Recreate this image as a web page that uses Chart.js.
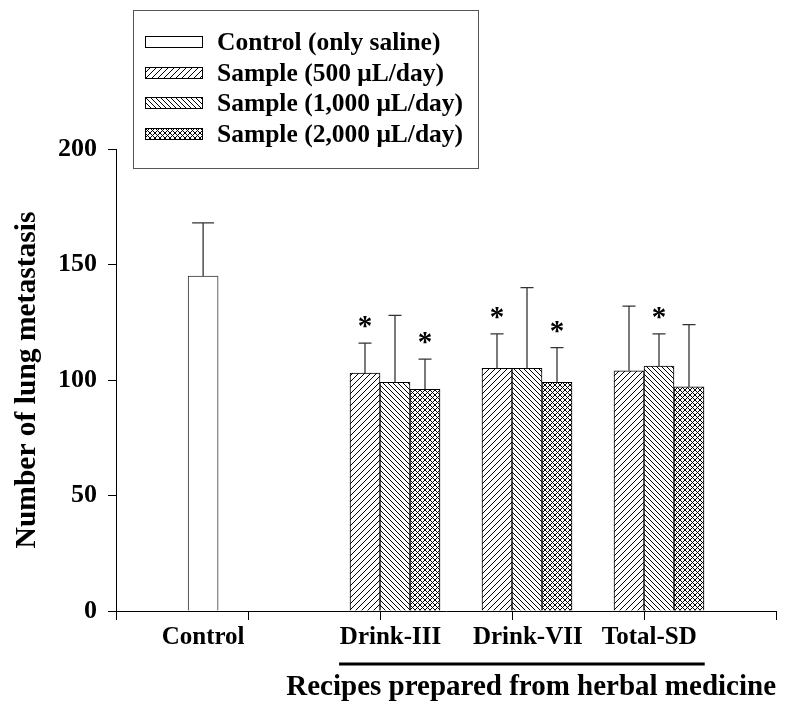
<!DOCTYPE html>
<html>
<head>
<meta charset="utf-8">
<script src="https://cdn.jsdelivr.net/npm/chart.js@4.4.1/dist/chart.umd.min.js"></script>
<style>
  html, body { margin: 0; padding: 0; background: #fff; }
  #wrap { position: relative; width: 787px; height: 707px; }
  #legend {
    position: absolute; left: 133px; top: 10px; width: 346px; height: 159px;
    box-sizing: border-box; border: 1px solid #555; background: #fff;
    font: bold 25.5px "Liberation Serif", "Times New Roman", serif; color: #000;
  }
  .row { position: absolute; left: 11px; height: 30px; display: flex; align-items: center; white-space: nowrap; }
  .row canvas { margin-right: 14px; }
</style>
</head>
<body>
<div id="wrap">
  <canvas id="chart" width="787" height="707"></canvas>
  <div id="legend"></div>
</div>
<script>
/* Lung metastasis bar chart */

const categories = ['Control', 'Drink-III', 'Drink-VII', 'Total-SD'];
const seriesLabels = ['Control (only saline)', 'Sample (500 \u03bcL/day)', 'Sample (1,000 \u03bcL/day)', 'Sample (2,000 \u03bcL/day)'];

const controlMean = [145];
const controlSD = [23];
const mean500 = [103, 105, 104];
const sd500 = [13, 15, 28];
const mean1000 = [99, 105, 106];
const sd1000 = [29, 35, 14];
const mean2000 = [96, 99, 97];
const sd2000 = [13, 15, 27];
const sig500 = [true, true, false];
const sig1000 = [false, false, true];
const sig2000 = [true, true, false];

const yTickValues = [0, 50, 100, 150, 200];
const xTitle = 'Recipes prepared from herbal medicine';
const yTitle = 'Number of lung metastasis';

// layout, in x-axis units (1 unit = one tick interval)
const BAR_PX = 30;
const UNIT_PX = 132;
const controlPos = 0.66;
const recipePos = [2, 3, 4];
const labelPos = [0.66, 2.08, 3.12, 4.04];
const underline = [1.69, 4.46];

function makePattern(kind) {
  const n = kind === 'fwd' ? 6 : 5;
  const c = document.createElement('canvas');
  c.width = n; c.height = n;
  const g = c.getContext('2d');
  g.fillStyle = '#fff';
  g.fillRect(0, 0, n, n);
  g.strokeStyle = '#000';
  g.lineWidth = 1;
  g.beginPath();
  if (kind === 'fwd' || kind === 'cross') {
    g.moveTo(-1, n + 1); g.lineTo(n + 1, -1);
    g.moveTo(-1, 1); g.lineTo(1, -1);
    g.moveTo(n - 1, n + 1); g.lineTo(n + 1, n - 1);
  }
  if (kind === 'back' || kind === 'cross') {
    g.moveTo(-1, -1); g.lineTo(n + 1, n + 1);
    g.moveTo(-1, n - 1); g.lineTo(1, n + 1);
    g.moveTo(n - 1, -1); g.lineTo(n + 1, 1);
  }
  g.stroke();
  return g.createPattern(c, 'repeat');
}

const fills = ['#fff', makePattern('fwd'), makePattern('back'), makePattern('cross')];

function recipeData(means, slot) {
  return means.map((m, i) => ({ x: recipePos[i] + (slot - 0.5) * BAR_PX / UNIT_PX, y: m }));
}

const datasets = [
  { label: seriesLabels[0], data: [{ x: controlPos, y: controlMean[0] }], sd: controlSD, sig: [false], capW: 22 },
  { label: seriesLabels[1], data: recipeData(mean500, 0), sd: sd500, sig: sig500, capW: 13 },
  { label: seriesLabels[2], data: recipeData(mean1000, 1), sd: sd1000, sig: sig1000, capW: 13 },
  { label: seriesLabels[3], data: recipeData(mean2000, 2), sd: sd2000, sig: sig2000, capW: 13 }
].map((d, i) => Object.assign(d, {
  backgroundColor: fills[i],
  borderColor: i === 0 ? '#333' : '#000',
  borderWidth: 1,
  borderSkipped: 'bottom',
  grouped: false,
  barThickness: BAR_PX
}));

const errorBars = {
  id: 'errorBars',
  afterDatasetsDraw(chart) {
    const ctx = chart.ctx;
    const y = chart.scales.y;
    ctx.save();
    chart.data.datasets.forEach((ds, di) => {
      chart.getDatasetMeta(di).data.forEach((bar, i) => {
        const top = y.getPixelForValue(ds.data[i].y + ds.sd[i]);
        ctx.strokeStyle = '#333';
        ctx.lineWidth = 1.3;
        ctx.beginPath();
        ctx.moveTo(bar.x, bar.y);
        ctx.lineTo(bar.x, top);
        ctx.moveTo(bar.x - ds.capW / 2, top);
        ctx.lineTo(bar.x + ds.capW / 2, top);
        ctx.stroke();
        if (ds.sig[i]) {
          ctx.fillStyle = '#000';
          ctx.font = 'bold 29px "Liberation Serif"';
          ctx.textAlign = 'center';
          ctx.textBaseline = 'alphabetic';
          ctx.fillText('*', bar.x, top - 21 + 13);
        }
      });
    });
    // line under the recipe labels
    const x = chart.scales.x;
    ctx.strokeStyle = '#000';
    ctx.lineWidth = 3;
    ctx.beginPath();
    ctx.moveTo(x.getPixelForValue(underline[0]), chart.chartArea.bottom + 53);
    ctx.lineTo(x.getPixelForValue(underline[1]), chart.chartArea.bottom + 53);
    ctx.stroke();
    ctx.restore();
  }
};

new Chart(document.getElementById('chart'), {
  type: 'bar',
  data: { datasets: datasets },
  options: {
    responsive: false,
    animation: false,
    layout: { padding: { top: 149, right: 11, bottom: 0, left: 0 } },
    plugins: { legend: { display: false }, tooltip: { enabled: false } },
    scales: {
      x: {
        type: 'linear',
        min: 0,
        max: 5,
        offset: false,
        afterBuildTicks: function(scale) {
          const marks = [0, 1, 2, 3, 4, 5].map(v => ({ value: v }));
          const labels = labelPos.map((v, i) => ({ value: v, cat: categories[i] }));
          scale.ticks = marks.concat(labels);
        },
        afterFit: function(scale) { scale.height = 96; },
        grid: {
          display: true,
          drawOnChartArea: false,
          drawTicks: true,
          tickLength: 9,
          tickWidth: 1,
          offset: false,
          tickColor: c => (c.tick && c.tick.cat) ? 'rgba(0,0,0,0)' : '#000'
        },
        border: { display: true, color: '#000', width: 1 },
        ticks: {
          autoSkip: false,
          maxRotation: 0,
          padding: 3,
          color: '#000',
          font: { family: 'Liberation Serif', size: 25, weight: 'bold' },
          callback: (v, i, ticks) => ticks[i].cat || ''
        },
        title: {
          display: true,
          text: xTitle,
          align: 'end',
          color: '#000',
          font: { family: 'Liberation Serif', size: 29, weight: 'bold' },
          padding: { top: 0, bottom: 2 }
        }
      },
      y: {
        min: 0,
        max: 200,
        afterBuildTicks: function(scale) {
          scale.ticks = yTickValues.map(v => ({ value: v }));
        },
        afterFit: function(scale) { scale.width = 116; },
        grid: {
          display: true,
          drawOnChartArea: false,
          drawTicks: true,
          tickLength: 8,
          tickColor: '#000'
        },
        border: { display: true, color: '#000', width: 1 },
        ticks: {
          padding: 11,
          color: '#000',
          font: { family: 'Liberation Serif', size: 26, weight: 'bold' }
        },
        title: {
          display: true,
          text: yTitle,
          color: '#000',
          font: { family: 'Liberation Serif', size: 29.5, weight: 'bold' },
          padding: { top: 10, bottom: 0 }
        }
      }
    }
  },
  plugins: [errorBars]
});

// legend drawn as html, with the same fills as the bars
const legend = document.getElementById('legend');
const rowTops = [16, 47, 77, 108];
seriesLabels.forEach((name, i) => {
  const row = document.createElement('div');
  row.className = 'row';
  row.style.top = rowTops[i] + 'px';
  const sw = document.createElement('canvas');
  sw.width = 58; sw.height = 12;
  const g = sw.getContext('2d');
  g.fillStyle = fills[i];
  g.fillRect(0, 0, 58, 12);
  g.strokeStyle = '#000';
  g.lineWidth = 1;
  g.strokeRect(0.5, 0.5, 57, 11);
  row.appendChild(sw);
  row.appendChild(document.createTextNode(name));
  legend.appendChild(row);
});
</script>
</body>
</html>
